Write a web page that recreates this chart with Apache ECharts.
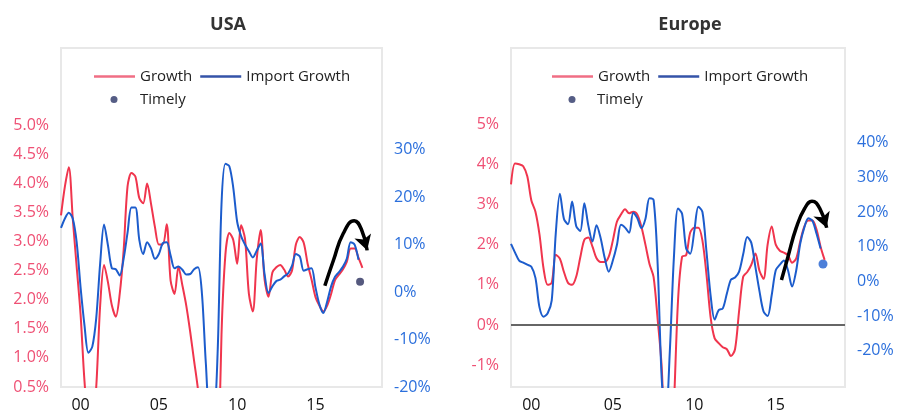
<!DOCTYPE html>
<html>
<head>
<meta charset="utf-8">
<script src="https://cdn.jsdelivr.net/npm/echarts@6/dist/echarts.min.js"></script>
<style>
  html, body { margin: 0; padding: 0; background: #fff; }
  #chart { width: 898px; height: 412px; }
</style>
</head>
<body>
<div id="chart"></div>
<script>
// quarterly categories, 1998Q4 .. 2019Q2
const quarters = [];
for (let y = 1998; y <= 2019; y++) {
  for (let q = 1; q <= 4; q++) {
    if ((y === 1998 && q < 4) || (y === 2019 && q > 2)) continue;
    quarters.push(y + 'Q' + q);
  }
}
const labelYears = [2000, 2005, 2010, 2015];

// USA (growth on left axis, import growth on right axis)
const usaGrowth = [3.45, 3.95, 4.28, 3.4, 2.57, 1.75, 0.6, -0.1, -0.2, 0.5, 1.9, 2.6, 2.3, 1.9, 1.71, 2.1,
  2.85, 3.95, 4.18, 4.12, 3.75, 3.66, 4.0, 3.65, 3.25, 2.95, 2.95, 3.3, 2.33, 2.1, 2.57, 2.25, 1.9, 1.45,
  0.95, 0.45, -0.3, -1.5, -3.0, -3.5, -1.5, 1.4, 2.78, 3.15, 3.03, 2.62, 3.28, 3.05, 2.1, 1.8, 2.7, 3.2,
  2.35, 2.05, 2.47, 2.56, 2.6, 2.52, 2.4, 2.5, 2.95, 3.08, 2.98, 2.62, 2.35, 2.05, 1.9, 1.8, 1.9, 2.1,
  2.34, 2.43, 2.52, 2.65, 2.88, 2.88, 2.72, 2.55];
const usaImportGrowth = [13.5, 15.5, 16.7, 15.5, 10.5, 1.0, -7.0, -12.8, -11.5, -5.5, 6.0, 14.2, 9.8, 5.0,
  4.8, 3.5, 7.0, 12.5, 17.8, 17.8, 11.0, 8.0, 10.5, 9.2, 7.0, 8.0, 10.3, 10.5, 7.7, 5.0, 5.4, 4.7, 3.7, 3.8,
  4.8, 5.2, -0.3, -15.0, -25.0, -25.0, -13.0, 18.5, 27.0, 26.5, 22.0, 14.8, 11.8, 10.0, 8.6, 7.3, 8.7, 10.2,
  3.8, -0.2, 1.2, 2.3, 2.6, 3.3, 3.9, 5.5, 8.0, 7.5, 4.5, 4.8, 5.0, 1.0, -2.6, -4.4, -2.0, 1.2, 3.2, 4.2,
  5.3, 7.0, 10.5, 10.0, 6.8];
const usaTimely = [[76.4, 2.31]];
const usaArrow = [[67.4, 2.24], [69.6, 2.68], [72.1, 3.14], [74.9, 3.36], [76.8, 3.2], [78.2, 2.85]];

// Europe
const euGrowth = [3.5, 4.02, 4.0, 3.95, 3.7, 3.1, 2.82, 2.25, 1.4, 1.0, 1.05, 1.75, 1.65, 1.32, 1.05, 1.0,
  1.2, 1.68, 2.12, 2.18, 1.95, 1.66, 1.57, 1.57, 1.7, 2.1, 2.57, 2.75, 2.88, 2.78, 2.82, 2.75, 2.45, 2.0,
  1.52, 1.2, 0.15, -1.05, -3.5, -4.0, -2.0, 0.6, 1.7, 1.74, 2.3, 2.42, 2.42, 2.1, 1.25, 0.2, -0.33, -0.45,
  -0.55, -0.6, -0.77, -0.6, 0.35, 1.2, 1.32, 1.5, 1.78, 1.35, 1.15, 2.0, 2.45, 2.0, 1.85, 1.8, 1.74, 1.55,
  1.65, 2.08, 2.45, 2.6, 2.6, 2.38, 1.95, 1.62];
const euImportGrowth = [10.8, 8.3, 6.0, 5.4, 4.8, 4.2, 1.0, -7.5, -10.2, -9.2, -5.5, 14.0, 25.3, 18.0, 16.5,
  23.0, 16.0, 14.5, 22.5, 16.0, 11.5, 16.2, 12.5, 6.8, 2.8, 6.0, 10.5, 16.3, 15.5, 14.0, 19.8, 18.3, 15.4,
  18.0, 24.0, 23.5, 5.0, -28.0, -40.0, -20.0, 7.0, 21.0, 19.5, 9.5, 8.0, 14.5, 21.5, 20.0, 8.5, -4.0, -11.0,
  -8.3, -7.8, -3.5, 0.5, 1.1, 2.8, 7.8, 12.8, 11.1, 4.2, -2.8, -8.7, -10.0, -4.0, 3.2, 4.8, 6.0, 3.2, -1.5,
  3.0, 10.8, 15.5, 18.2, 17.5, 13.8, 9.5];
const euTimely = [[76.6, 1.52]];
const euArrow = [[66.4, 1.12], [68.0, 1.70], [70.0, 2.41], [72.1, 2.90], [73.9, 3.08], [75.8, 2.90], [77.5, 2.42]];

// axis tick labels
const usaLeftTicks = [0.5, 1.0, 1.5, 2.0, 2.5, 3.0, 3.5, 4.0, 4.5, 5.0];
const usaRightTicks = [-20, -10, 0, 10, 20, 30];
const euLeftTicks = [-1, 0, 1, 2, 3, 4, 5];
const euRightTicks = [-20, -10, 0, 10, 20, 30, 40];

const RED = '#f0354d';
const BLUE = '#1c5ccc';
const RED_LABEL = '#ef5074';
const BLUE_LABEL = '#2b6fdc';
const FONT = 'Open Sans';

const myChart = echarts.init(document.getElementById('chart'));

function xAxes(gridIndex) {
  return [{
    type: 'category',
    gridIndex: gridIndex,
    data: quarters,
    boundaryGap: false,
    axisLine: { show: false },
    axisTick: { show: false },
    splitLine: { show: false },
    axisLabel: {
      color: '#111',
      fontSize: 16,
      fontFamily: FONT,
      margin: 10,
      interval: function (idx, val) {
        return val.slice(4) === 'Q1' && labelYears.indexOf(+val.slice(0, 4)) >= 0;
      },
      formatter: function (val) { return val.slice(2, 4); }
    }
  }, {
    // helper axis in quarter-index units for annotations
    type: 'value',
    gridIndex: gridIndex,
    min: 0,
    max: quarters.length - 1,
    show: false
  }];
}

function yAxis(gridIndex, pos, min, max, ticks, color, fmt) {
  return {
    type: 'value',
    gridIndex: gridIndex,
    position: pos,
    min: min,
    max: max,
    axisLine: { show: false },
    axisTick: { show: false },
    splitLine: { show: false },
    axisLabel: {
      customValues: ticks,
      color: color,
      fontSize: 16,
      fontFamily: FONT,
      margin: 12,
      formatter: fmt
    }
  };
}

function arrowData(points, rotate) {
  return points.map(function (p, i) {
    if (i < points.length - 1) return p;
    return { value: p, symbol: 'arrow', symbolSize: [13, 15], symbolRotate: rotate };
  });
}

function lineLegend(left) {
  return {
    data: [
      { name: 'Growth', icon: 'rect', itemStyle: { color: '#f06e84' } },
      { name: 'Import Growth', icon: 'rect', itemStyle: { color: '#3453a8' } }
    ],
    left: left, top: 69, padding: 0, itemWidth: 41, itemHeight: 2.5, itemGap: 8,
    textStyle: { fontSize: 15, color: '#222', fontFamily: FONT }
  };
}

// dot sits centred under the first line icon, text lines up with "Growth"
function dotLegend(iconCenter, textLeft) {
  return {
    data: [{ name: 'Timely', icon: 'circle', itemStyle: { color: '#2b3566' } }],
    left: iconCenter - 3.5, top: 92, padding: 0, itemWidth: 7, itemHeight: 7,
    textStyle: { fontSize: 15, color: '#222', fontFamily: FONT,
      padding: [0, 0, 0, textLeft - (iconCenter + 3.5) - 5] }
  };
}

const pct1 = function (v) { return v.toFixed(1) + '%'; };
const pct0 = function (v) { return v + '%'; };

const option = {
  animation: false,
  backgroundColor: '#fff',
  textStyle: { fontFamily: FONT },
  title: [
    { text: 'USA', left: 223, top: 11, textAlign: 'center',
      textStyle: { fontSize: 18, fontWeight: 'bold', color: '#333', fontFamily: FONT } },
    { text: 'Europe', left: 685, top: 11, textAlign: 'center',
      textStyle: { fontSize: 18, fontWeight: 'bold', color: '#333', fontFamily: FONT } }
  ],
  legend: [lineLegend(94), dotLegend(114, 140), lineLegend(552), dotLegend(572, 597)],
  grid: [
    { left: 61, top: 48, width: 321, height: 339, show: true, borderColor: '#e8e8e8', borderWidth: 2,
      backgroundColor: 'transparent', containLabel: false, outerBoundsMode: 'none' },
    { left: 511, top: 48, width: 334, height: 339, show: true, borderColor: '#e8e8e8', borderWidth: 2,
      backgroundColor: 'transparent', containLabel: false, outerBoundsMode: 'none' }
  ],
  xAxis: xAxes(0).concat(xAxes(1)),
  yAxis: [
    yAxis(0, 'left', 0.5, 6.33, usaLeftTicks, RED_LABEL, pct1),
    yAxis(0, 'right', -20, 51.4, usaRightTicks, BLUE_LABEL, pct0),
    yAxis(1, 'left', -1.54, 6.89, euLeftTicks, RED_LABEL, pct0),
    yAxis(1, 'right', -30.46, 67.3, euRightTicks, BLUE_LABEL, pct0)
  ],
  series: [
    { name: 'Growth', type: 'line', xAxisIndex: 0, yAxisIndex: 0, data: usaGrowth,
      symbol: 'none', smooth: 0.3, color: RED, lineStyle: { width: 2, color: RED } },
    { name: 'Import Growth', type: 'line', xAxisIndex: 0, yAxisIndex: 1, data: usaImportGrowth,
      symbol: 'none', smooth: 0.3, color: BLUE, lineStyle: { width: 2, color: BLUE } },
    { name: 'Timely', type: 'scatter', xAxisIndex: 1, yAxisIndex: 0, data: usaTimely,
      symbolSize: 8, color: '#2b2f5e' },
    { name: 'usaArrow', type: 'line', xAxisIndex: 1, yAxisIndex: 0, data: arrowData(usaArrow, 197),
      symbol: 'none', smooth: 0.5, color: '#000', lineStyle: { width: 3.5, color: '#000' },
      itemStyle: { color: '#000' }, z: 5 },

    { name: 'Growth', type: 'line', xAxisIndex: 2, yAxisIndex: 2, data: euGrowth,
      symbol: 'none', smooth: 0.3, color: RED, lineStyle: { width: 2, color: RED },
      markLine: { silent: true, symbol: 'none', label: { show: false },
        lineStyle: { color: '#666', width: 2, type: 'solid' }, data: [{ yAxis: 0 }] } },
    { name: 'Import Growth', type: 'line', xAxisIndex: 2, yAxisIndex: 3, data: euImportGrowth,
      symbol: 'none', smooth: 0.3, color: BLUE, lineStyle: { width: 2, color: BLUE } },
    { name: 'Timely', type: 'scatter', xAxisIndex: 3, yAxisIndex: 2, data: euTimely,
      symbolSize: 9, color: '#1f5fd0' },
    { name: 'euArrow', type: 'line', xAxisIndex: 3, yAxisIndex: 2, data: arrowData(euArrow, 200),
      symbol: 'none', smooth: 0.5, color: '#000', lineStyle: { width: 3.5, color: '#000' },
      itemStyle: { color: '#000' }, z: 5 }
  ]
};

myChart.setOption(option);
window.addEventListener('resize', myChart.resize);
</script>
</body>
</html>
